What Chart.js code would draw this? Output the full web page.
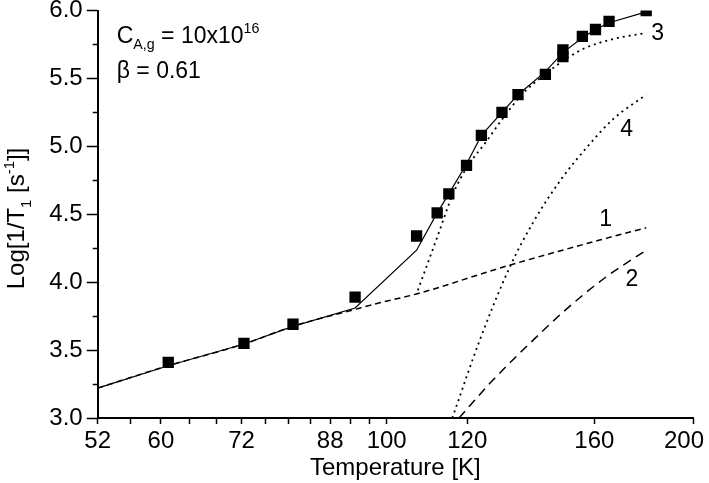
<!DOCTYPE html>
<html>
<head>
<meta charset="utf-8">
<script src="https://cdn.jsdelivr.net/npm/chart.js@4"></script>
<style>
  html, body { margin: 0; padding: 0; background: #fff; }
  #wrap { width: 709px; height: 483px; }
</style>
</head>
<body>
<div id="wrap"><canvas id="t1-chart" width="709" height="483"></canvas></div>
<script>
// Measured points (squares)
const measTemps = [61.0, 72.4, 80.9, 93.1, 107.0, 112.1, 115.1, 119.8, 123.9, 129.8, 134.6, 143.2, 149.0, 149.0, 155.7, 160.4, 165.4, 179.9];
const measRates = [3.41, 3.55, 3.69, 3.89, 4.34, 4.51, 4.65, 4.86, 5.08, 5.25, 5.38, 5.53, 5.66, 5.71, 5.81, 5.86, 5.92, 6.00];

// Total fit (solid)
const fitTemps = [52, 61.0, 72.4, 80.9, 93.1, 107.0, 112.1, 115.1, 119.8, 123.9, 129.8, 134.6, 143.2, 149.0, 155.7, 160.4, 165.4, 179.9];
const fitRates = [3.22, 3.385, 3.545, 3.675, 3.81, 4.235, 4.51, 4.65, 4.87, 5.08, 5.25, 5.38, 5.55, 5.69, 5.80, 5.86, 5.91, 5.99];

// Contributions 1-4
const c1Temps = [52, 61.0, 72.4, 80.9, 93.1, 98.4, 107.2, 131.1, 161.9, 179.9];
const c1Rates = [3.22, 3.385, 3.545, 3.675, 3.80, 3.848, 3.915, 4.118, 4.31, 4.40];
const c2Temps = [117.8, 126.3, 136.1, 150.1, 164.4, 179.9];
const c2Rates = [3.0, 3.255, 3.5, 3.80, 4.04, 4.235];
const c3Temps = [107.3, 112.1, 116.2, 119.8, 125.4, 129.9, 136.1, 143.1, 150.1, 156.3, 166.9, 179.9];
const c3Rates = [3.94, 4.33, 4.65, 4.84, 5.04, 5.20, 5.39, 5.53, 5.645, 5.72, 5.79, 5.835];
const c4Temps = [116.0, 123.4, 132.1, 139.3, 148.5, 157.2, 166.9, 179.9];
const c4Rates = [3.0, 3.57, 4.11, 4.44, 4.76, 4.99, 5.20, 5.38];

// Axis ticks
const xMajorTicks = [52, 60, 72, 88, 100, 120, 160, 200];
const xMinorTicks = [56, 64, 68, 76, 80, 84, 92, 96];
const yMajorTicks = [3.0, 3.5, 4.0, 4.5, 5.0, 5.5, 6.0];
const yMinorTicks = [3.25, 3.75, 4.25, 4.75, 5.25, 5.75];

// Curve labels (placed in data units)
const curveLabels = [
    { text: '1', x: 164.1, y: 4.46 },
    { text: '2', x: 174.2, y: 4.02 },
    { text: '3', x: 184.6, y: 5.83 },
    { text: '4', x: 172.1, y: 5.12 }
];

const FONT = '"Liberation Sans", Arial, sans-serif';
const FS = 24;   // axis text
const FA = 23;   // annotations

function toXY(xs, ys) {
    return xs.map((x, i) => ({ x: x, y: ys[i] }));
}

function lineSet(xs, ys, dash, width, smooth) {
    return {
        data: toXY(xs, ys),
        showLine: true,
        borderColor: '#000',
        borderWidth: width,
        borderDash: dash,
        pointRadius: 0,
        cubicInterpolationMode: smooth ? 'monotone' : 'default',
        tension: 0,
        clip: 0
    };
}

// draw text with sub/superscript pieces
function drawRich(ctx, parts, x, y, size) {
    let cx = x;
    parts.forEach(p => {
        const s = (p.sub || p.sup) ? size * 0.62 : size;
        ctx.font = s + 'px ' + FONT;
        const dy = p.sub ? size * 0.28 : (p.sup ? -size * 0.42 : 0);
        ctx.fillText(p.t, cx, y + dy);
        cx += ctx.measureText(p.t).width;
    });
    return cx - x;
}

function richWidth(ctx, parts, size) {
    let w = 0;
    parts.forEach(p => {
        const s = (p.sub || p.sup) ? size * 0.62 : size;
        ctx.font = s + 'px ' + FONT;
        w += ctx.measureText(p.t).width;
    });
    return w;
}

const decorPlugin = {
    id: 'decor',
    afterDraw(chart) {
        const ctx = chart.ctx;
        const xs = chart.scales.x, ys = chart.scales.y;
        const area = chart.chartArea;
        ctx.save();
        ctx.strokeStyle = '#000';
        ctx.lineWidth = 1.5;
        // minor ticks
        ctx.beginPath();
        xMinorTicks.forEach(v => {
            const px = Math.round(xs.getPixelForValue(v)) + 0.5;
            ctx.moveTo(px, area.bottom);
            ctx.lineTo(px, area.bottom + 6);
        });
        yMinorTicks.forEach(v => {
            const py = Math.round(ys.getPixelForValue(v)) + 0.5;
            ctx.moveTo(area.left, py);
            ctx.lineTo(area.left - 5, py);
        });
        ctx.stroke();

        ctx.fillStyle = '#000';
        // last x label kept inside the canvas, like the original
        const last = xMajorTicks[xMajorTicks.length - 1];
        ctx.font = FS + 'px ' + FONT;
        ctx.textAlign = 'right';
        ctx.textBaseline = 'alphabetic';
        ctx.fillText(String(last), 704, area.bottom + 30);

        ctx.textAlign = 'left';
        // parameters box
        drawRich(ctx, [{ t: 'C' }, { t: 'A,g', sub: true }, { t: ' = 10x10' }, { t: '16', sup: true }],
            area.left + 19, area.top + 32, FA);
        drawRich(ctx, [{ t: '\u03B2 = 0.61' }], area.left + 19, area.top + 67, FA);

        // curve labels
        ctx.font = FA + 'px ' + FONT;
        ctx.textAlign = 'center';
        ctx.textBaseline = 'middle';
        curveLabels.forEach(l => {
            ctx.fillText(l.text, xs.getPixelForValue(l.x), ys.getPixelForValue(l.y));
        });

        // y axis title with sub/superscript
        const parts = [{ t: 'Log[1/T' }, { t: '1', sub: true }, { t: ' [s' }, { t: '-1', sup: true }, { t: ']]' }];
        ctx.translate(24, 218.5);
        ctx.rotate(-Math.PI / 2);
        ctx.textAlign = 'left';
        ctx.textBaseline = 'alphabetic';
        const w = richWidth(ctx, parts, FS);
        drawRich(ctx, parts, -w / 2, 0, FS);
        ctx.restore();
    }
};

const ctx = document.getElementById('t1-chart');
new Chart(ctx.getContext('2d'), {
    type: 'scatter',
    data: {
        datasets: [
            lineSet(c1Temps, c1Rates, [6, 4], 1.5, true),
            lineSet(c2Temps, c2Rates, [9, 6], 1.5, true),
            lineSet(c3Temps, c3Rates, [2, 4], 1.8, true),
            lineSet(c4Temps, c4Rates, [2, 4], 1.8, true),
            lineSet(fitTemps, fitRates, [], 1.2, false),
            {
                data: toXY(measTemps, measRates),
                showLine: false,
                pointStyle: 'rect',
                pointRadius: 8,
                pointHoverRadius: 8,
                backgroundColor: '#000',
                borderColor: '#000',
                borderWidth: 0,
                clip: 0
            }
        ]
    },
    options: {
        responsive: false,
        animation: false,
        layout: { padding: { top: 10.5, right: 16, left: 0, bottom: 0 } },
        plugins: {
            legend: { display: false },
            tooltip: { enabled: false }
        },
        scales: {
            x: {
                type: 'logarithmic',
                min: 52,
                max: 200,
                afterBuildTicks: function(scale) {
                    scale.ticks = xMajorTicks.map(v => ({ value: v }));
                },
                afterFit: function(scale) {
                    scale.height = 65;
                    scale.paddingLeft = 0;
                    scale.paddingRight = 0;
                },
                border: { display: true, color: '#000', width: 2 },
                grid: { drawOnChartArea: false, drawTicks: true, tickLength: 6, tickColor: '#000', tickWidth: 1.5 },
                ticks: {
                    autoSkip: false,
                    maxRotation: 0,
                    padding: 3,
                    color: function(c) {
                        return c.index === xMajorTicks.length - 1 ? 'rgba(0,0,0,0)' : '#000';
                    },
                    font: { family: FONT, size: FS },
                    callback: function(value) { return String(value); }
                },
                title: {
                    display: true,
                    text: 'Temperature [K]',
                    color: '#000',
                    font: { family: FONT, size: FS },
                    padding: { top: 0, bottom: 0 }
                }
            },
            y: {
                type: 'linear',
                min: 3.0,
                max: 6.0,
                afterBuildTicks: function(scale) {
                    scale.ticks = yMajorTicks.map(v => ({ value: v }));
                },
                afterFit: function(scale) {
                    scale.width = 97.7;
                    scale.paddingTop = 0;
                    scale.paddingBottom = 0;
                },
                border: { display: true, color: '#000', width: 2 },
                grid: { drawOnChartArea: false, drawTicks: true, tickLength: 11, tickColor: '#000', tickWidth: 1.5 },
                ticks: {
                    padding: 4,
                    color: '#000',
                    font: { family: FONT, size: FS },
                    callback: function(value) { return value.toFixed(1); }
                }
            }
        }
    },
    plugins: [decorPlugin]
});
</script>
</body>
</html>
